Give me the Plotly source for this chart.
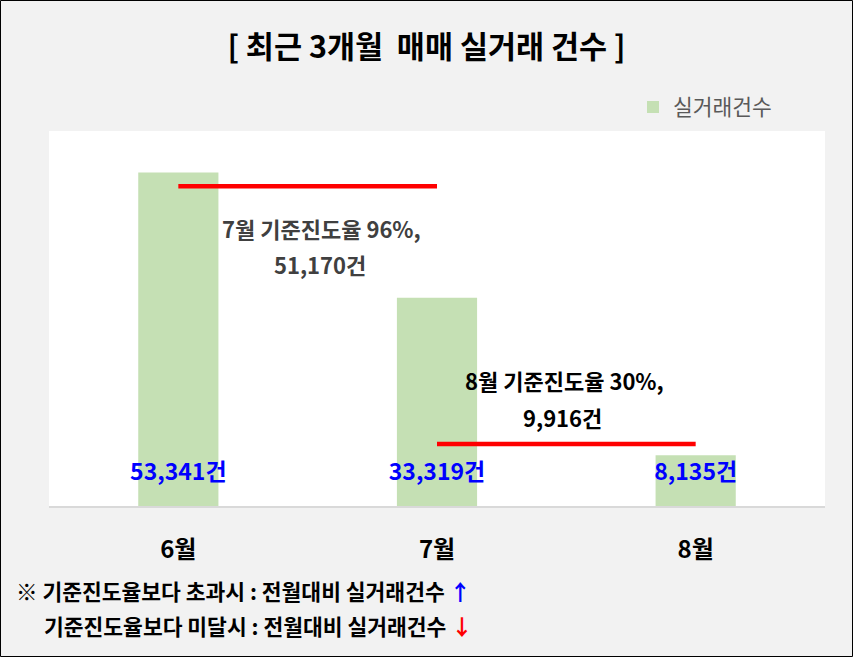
import plotly.graph_objects as go

months = ['6월', '7월', '8월']
deals = [53341, 33319, 8135]

# 기준진도율 reference lines (from month -> next month)
ref_7_months = ['6월', '7월']
ref_7_values = [51170, 51170]
ref_8_months = ['7월', '8월']
ref_8_values = [9916, 9916]

W, H = 853, 657
ML, MR, MT, MB = 49, 28, 131, 151
PW, PH = W - ML - MR, H - MT - MB
YMAX = 60000
FONT = 'Noto Sans CJK KR'


def px_x(p):
    return (p - ML) / PW


def px_y(p):
    return (H - MB - p) / PH


def cat_x(p):
    # pixel -> category coordinate (3 categories across the plot)
    return (p - ML) / (PW / 3) - 0.5


def val_y(p):
    return (H - MB - p) / PH * YMAX


fig = go.Figure()

fig.add_trace(go.Bar(
    x=months, y=deals, name='실거래건수',
    marker=dict(color='#c5e0b4', line=dict(width=0)),
    width=0.31,
))

for xs, ys in [(ref_7_months, ref_7_values), (ref_8_months, ref_8_values)]:
    fig.add_trace(go.Scatter(
        x=xs, y=ys, mode='lines', showlegend=False,
        line=dict(color='#ff0000', width=4.5),
    ))

# bar value labels (blue, at bar base)
fig.add_trace(go.Scatter(
    x=months, y=[val_y(474)] * len(months), mode='text', showlegend=False,
    text=[f'{v:,}건' for v in deals],
    textfont=dict(family=FONT, size=23, color='#0000ff', weight='bold'),
))


def note(text, x, y, color):
    return dict(x=cat_x(x), y=val_y(y), xref='x', yref='y', showarrow=False,
                text=text, font=dict(family=FONT, size=22, color=color, weight='bold'))


annotations = [
    note('7월 기준진도율 96%,', 321, 228, '#404040'),
    note('51,170건', 320, 264, '#404040'),
    note('8월 기준진도율 30%,', 564, 380, '#000000'),
    note('9,916건', 562, 417, '#000000'),
    dict(x=px_x(14), y=px_y(590), xref='paper', yref='paper', showarrow=False,
         xanchor='left', yanchor='middle',
         text='※ 기준진도율보다 초과시 : 전월대비 실거래건수 <span style="color:#0000ff">↑</span>',
         font=dict(family=FONT, size=21.5, color='#000000', weight='bold')),
    dict(x=px_x(42), y=px_y(625), xref='paper', yref='paper', showarrow=False,
         xanchor='left', yanchor='middle',
         text='기준진도율보다 미달시 : 전월대비 실거래건수 <span style="color:#ff0000">↓</span>',
         font=dict(family=FONT, size=21.5, color='#000000', weight='bold')),
]

# outer border
shapes = [dict(type='rect', xref='paper', yref='paper',
               x0=px_x(0.5), x1=px_x(W - 0.5), y0=px_y(H - 0.5), y1=px_y(0.5),
               line=dict(color='#000000', width=1), fillcolor='rgba(0,0,0,0)', layer='above')]

fig.update_layout(
    width=W, height=H,
    margin=dict(l=ML, r=MR, t=MT, b=MB),
    paper_bgcolor='#f2f2f2', plot_bgcolor='#ffffff',
    font=dict(family=FONT),
    title=dict(text='<b>[ 최근 3개월  매매 실거래 건수 ]</b>', x=0.5, xanchor='center',
               y=1 - 47 / H, yanchor='middle', yref='container',
               font=dict(family=FONT, size=30.5, color='#000000')),
    legend=dict(orientation='h', x=px_x(777), xanchor='right', y=px_y(107), yanchor='middle',
                bgcolor='rgba(0,0,0,0)', font=dict(family=FONT, size=21.5, color='#595959'),
                itemwidth=30),
    xaxis=dict(showline=True, linecolor='#d9d9d9', linewidth=2, ticks='',
               tickfont=dict(family=FONT, size=24, color='#000000', weight='bold'),
               ticklabelstandoff=21, showgrid=False),
    yaxis=dict(range=[0, YMAX], visible=False, showgrid=False),
    annotations=annotations, shapes=shapes,
)

fig.write_html('out.html', config={'displayModeBar': False},
               post_script="document.body.style.margin='0';")
